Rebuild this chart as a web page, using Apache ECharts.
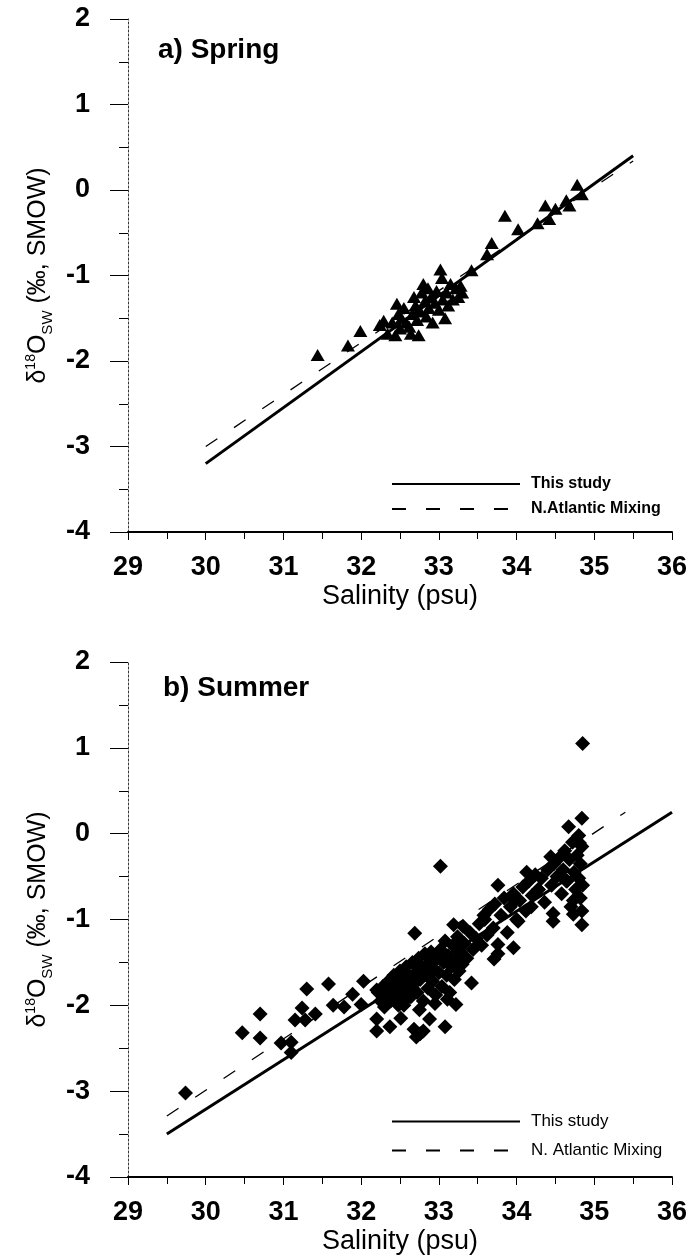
<!DOCTYPE html>
<html>
<head>
<meta charset="utf-8">
<script src="https://cdn.jsdelivr.net/npm/echarts@6/dist/echarts.min.js"></script>
<style>
html,body{margin:0;padding:0;background:#fff;}
#chart{width:691px;height:1260px;}
</style>
</head>
<body>
<div id="chart"></div>
<script>
// ---- data ----
var xTicks = [29, 30, 31, 32, 33, 34, 35, 36];
var yTicks = [-4, -3, -2, -1, 0, 1, 2];
var panelLabels = ['a) Spring', 'b) Summer'];
var legendNamesSpring = ['This study', 'N.Atlantic Mixing'];
var legendNamesSummer = ['This study', 'N. Atlantic Mixing'];

var springPoints = [
  [31.44,-1.93],[31.83,-1.82],[31.99,-1.65],[32.24,-1.58],[32.29,-1.53],[32.34,-1.68],[32.40,-1.55],
  [32.44,-1.70],[32.46,-1.33],[32.48,-1.45],[32.50,-1.62],[32.52,-1.50],[32.55,-1.38],[32.58,-1.55],
  [32.62,-1.60],[32.64,-1.68],[32.66,-1.45],[32.68,-1.25],[32.70,-1.35],[32.72,-1.52],[32.74,-1.70],
  [32.76,-1.42],[32.78,-1.20],[32.80,-1.10],[32.82,-1.30],[32.84,-1.48],[32.86,-1.15],[32.87,-1.38],
  [32.90,-1.25],[32.92,-1.55],[32.95,-1.32],[32.97,-1.18],[33.00,-1.40],[33.02,-0.93],[33.04,-1.03],
  [33.05,-1.28],[33.08,-1.50],[33.10,-1.20],[33.12,-1.35],[33.15,-1.10],[33.18,-1.28],[33.22,-1.15],
  [33.25,-1.25],[33.28,-1.12],[33.30,-1.20],[33.42,-0.94],[33.62,-0.75],[33.68,-0.62],[33.85,-0.30],
  [34.02,-0.46],[34.27,-0.39],[34.37,-0.18],[34.42,-0.34],[34.50,-0.22],[34.64,-0.12],[34.68,-0.18],
  [34.78,0.06],[34.84,-0.05]
];
var springFit = [[30.0,-3.20],[35.5,0.40]];
var springNAtl = [[30.0,-3.00],[35.5,0.34]];

var summerPoints = [
  [29.74,-3.02],[30.47,-2.32],[30.70,-2.10],[30.70,-2.38],[30.97,-2.44],[31.10,-2.43],[31.10,-2.55],
  [31.15,-2.17],[31.24,-2.03],[31.28,-2.17],[31.30,-1.81],[31.41,-2.10],[31.58,-1.75],[31.64,-2.00],
  [31.78,-2.02],[31.89,-1.87],[32.03,-1.72],[32.00,-1.99],[32.20,-1.82],[32.20,-2.16],[32.20,-2.30],
  [32.37,-2.25],[32.51,-2.15],[32.68,-2.28],[32.71,-2.37],[32.76,-2.33],[32.80,-2.30],[32.88,-2.16],
  [33.08,-2.25],[33.22,-1.99],[33.11,-1.93],[33.42,-1.74],[32.69,-1.16],[33.19,-1.06],[33.31,-1.08],
  [33.59,-1.00],[33.76,-1.29],[33.96,-1.33],[33.71,-1.46],[34.02,-1.02],[34.19,-0.85],[34.47,-1.02],
  [34.84,-1.06],[34.73,-0.94],[34.85,1.05],[33.02,-0.38],[34.67,0.08],[34.84,0.18],[33.76,-0.60],
  [34.13,-0.45],[34.44,-0.27],[34.81,-0.11],[34.47,-0.93],[34.64,-0.55],[34.28,-0.65],[33.98,-0.78],
  [34.73,-0.78],[32.55,-2.00],[32.75,-2.05],[32.95,-1.98],
  [32.22,-1.85],[32.25,-1.95],[32.28,-1.78],[32.30,-2.02],[32.32,-1.88],[32.35,-1.72],[32.38,-1.95],
  [32.40,-1.82],[32.42,-1.65],[32.44,-1.90],[32.46,-1.75],[32.48,-2.00],[32.50,-1.60],[32.52,-1.85],
  [32.54,-1.70],[32.56,-1.95],[32.58,-1.55],[32.60,-1.80],[32.62,-1.66],[32.64,-1.90],
  [32.66,-1.50],[32.68,-1.75],[32.70,-1.62],[32.72,-1.85],[32.74,-1.45],[32.76,-1.70],[32.78,-1.55],
  [32.80,-1.95],[32.82,-1.40],[32.84,-1.65],[32.86,-1.80],[32.88,-1.50],[32.90,-1.38],[32.92,-1.72],
  [32.94,-1.58],[32.96,-1.88],[32.98,-1.45],[33.00,-1.62],
  [33.02,-1.35],[33.04,-1.78],[33.06,-1.50],[33.08,-1.25],[33.10,-1.65],[33.12,-1.42],[33.14,-1.85],
  [33.16,-1.55],[33.18,-1.30],[33.20,-1.70],[33.22,-1.45],[33.24,-1.20],[33.26,-1.60],[33.28,-1.38],
  [33.30,-1.52],[33.33,-1.28],[33.36,-1.45],[33.40,-1.15],[33.44,-1.35],[33.48,-1.22],
  [33.52,-1.05],[33.55,-1.30],[33.58,-0.95],[33.62,-1.18],[33.65,-0.88],[33.70,-1.10],[33.72,-0.82],
  [33.76,-1.40],[33.80,-0.95],[33.84,-0.75],[33.88,-1.15],[33.92,-0.85],[33.96,-0.70],[34.00,-1.00],
  [34.04,-0.78],[34.08,-0.62],[34.12,-0.90],[34.16,-0.55],[34.20,-0.72],[34.24,-0.48],[34.28,-0.65],
  [34.32,-0.52],[34.36,-0.80],[34.40,-0.42],
  [34.45,-0.60],[34.48,-0.35],[34.52,-0.50],[34.55,-0.28],[34.58,-0.70],[34.60,-0.42],[34.62,-0.20],
  [34.65,-0.55],[34.68,-0.30],[34.70,-0.85],[34.72,-0.10],[34.74,-0.45],[34.76,-0.65],[34.78,-0.25],
  [34.80,-0.02],[34.80,-0.52],[34.82,-0.75],[34.82,-0.35],[34.84,-0.15],[34.84,-0.90],[34.85,-0.60]
];
var summerFit = [[29.5,-3.50],[36.0,0.25]];
var summerNAtl = [[29.5,-3.29],[35.4,0.25]];

// ---- chart ----
var FONT = "'Liberation Sans', Arial, sans-serif";

function xAxisCfg(gi) {
  return {
    type: 'value', gridIndex: gi, min: xTicks[0], max: xTicks[xTicks.length-1], interval: 1,
    name: 'Salinity (psu)', nameLocation: 'middle', nameGap: 51,
    nameTextStyle: { fontFamily: FONT, fontSize: 27, color: '#000' },
    axisLine: { show: true, onZero: false, lineStyle: { color: '#000', width: 2 } },
    axisTick: { show: true, length: 8, lineStyle: { color: '#000', width: 1 } },
    minorTick: { show: true, splitNumber: 2, length: 7, lineStyle: { color: '#000', width: 1 } },
    splitLine: { show: false },
    axisLabel: { margin: 22, fontFamily: FONT, fontWeight: 'bold', fontSize: 27, color: '#000' }
  };
}
function yAxisCfg(gi) {
  return {
    type: 'value', gridIndex: gi, min: yTicks[0], max: yTicks[yTicks.length-1], interval: 1,
    name: '{a|δ}{sup|18}{a|O}{sub|SW}{a| (‰, SMOW)}', nameLocation: 'middle', nameGap: 70,
    nameTextStyle: {
      color: '#000',
      rich: {
        a: { fontFamily: FONT, fontSize: 25, color: '#000', lineHeight: 34 },
        sup: { fontFamily: FONT, fontSize: 14, color: '#000', lineHeight: 34, verticalAlign: 'top', padding: [3,0,0,0] },
        sub: { fontFamily: FONT, fontSize: 15, color: '#000', lineHeight: 34, verticalAlign: 'bottom' }
      }
    },
    axisLine: { show: true, onZero: false, lineStyle: { color: '#333', width: 1, type: [2, 2] } },
    axisTick: { show: true, length: 18, lineStyle: { color: '#000', width: 1 } },
    minorTick: { show: true, splitNumber: 2, length: 9, lineStyle: { color: '#000', width: 1 } },
    splitLine: { show: false },
    axisLabel: { margin: 38, fontFamily: FONT, fontWeight: 'bold', fontSize: 27, color: '#000' }
  };
}

var hiddenSymbol = { color: 'rgba(0,0,0,0)', borderColor: 'rgba(0,0,0,0)', borderWidth: 0, opacity: 0 };

var chart = echarts.init(document.getElementById('chart'), null, { renderer: 'canvas' });
var option = {
  backgroundColor: '#fff',
  animation: false,
  grid: [
    { left: 128, top: 19, width: 544, height: 513 },
    { left: 128, top: 662, width: 544, height: 515 }
  ],
  xAxis: [xAxisCfg(0), xAxisCfg(1)],
  yAxis: [yAxisCfg(0), yAxisCfg(1)],
  legend: [
    { data: legendNamesSpring, orient: 'vertical', left: 386, top: 471, itemWidth: 128, itemHeight: 14, itemGap: 9,
      itemStyle: hiddenSymbol,
      textStyle: { fontFamily: FONT, fontWeight: 'bold', fontSize: 16, color: '#000', padding: [0,0,0,6] }, selectedMode: false },
    { data: legendNamesSummer, orient: 'vertical', left: 386, top: 1108, itemWidth: 128, itemHeight: 14, itemGap: 12,
      itemStyle: hiddenSymbol,
      textStyle: { fontFamily: FONT, fontSize: 17, color: '#000', padding: [0,0,0,6] }, selectedMode: false }
  ],
  graphic: [
    { type: 'text', x: 158, y: 50, style: { text: panelLabels[0], font: "bold 28px 'Liberation Sans', Arial", fill: '#000', verticalAlign: 'middle' } },
    { type: 'text', x: 163, y: 688, style: { text: panelLabels[1], font: "bold 28px 'Liberation Sans', Arial", fill: '#000', verticalAlign: 'middle' } }
  ],
  series: [
    { name: 'spring', type: 'scatter', xAxisIndex: 0, yAxisIndex: 0, data: springPoints,
      symbol: 'triangle', symbolSize: [14, 12], itemStyle: { color: '#000', opacity: 1 }, z: 3 },
    { name: legendNamesSpring[0], type: 'line', xAxisIndex: 0, yAxisIndex: 0, data: springFit,
      symbol: 'none', lineStyle: { color: '#000', width: 3 }, itemStyle: { color: '#000' }, z: 2 },
    { name: legendNamesSpring[1], type: 'line', xAxisIndex: 0, yAxisIndex: 0, data: springNAtl,
      symbol: 'none', lineStyle: { color: '#000', width: 1.3, type: [14, 20] }, itemStyle: { color: '#000' }, z: 2 },
    { name: 'summer', type: 'scatter', xAxisIndex: 1, yAxisIndex: 1, data: summerPoints,
      symbol: 'diamond', symbolSize: 15, itemStyle: { color: '#000', opacity: 1 }, z: 3 },
    { name: legendNamesSummer[0], type: 'line', xAxisIndex: 1, yAxisIndex: 1, data: summerFit,
      symbol: 'none', lineStyle: { color: '#000', width: 3 }, itemStyle: { color: '#000' }, z: 2 },
    { name: legendNamesSummer[1], type: 'line', xAxisIndex: 1, yAxisIndex: 1, data: summerNAtl,
      symbol: 'none', lineStyle: { color: '#000', width: 1.3, type: [14, 20] }, itemStyle: { color: '#000' }, z: 2 }
  ]
};
chart.setOption(option);
</script>
</body>
</html>
